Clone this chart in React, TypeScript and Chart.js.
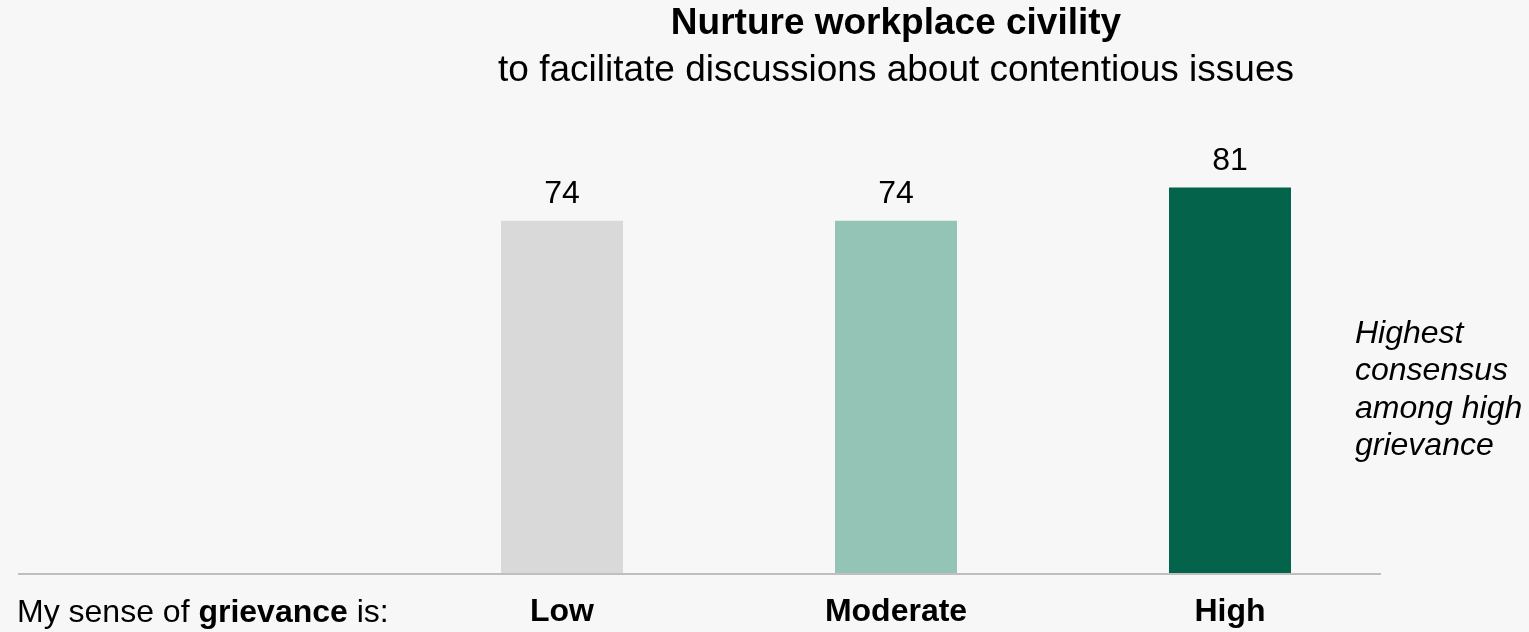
import React, { useEffect, useRef } from "react";
import { Chart, registerables } from "chart.js";

Chart.register(...registerables);

const categories = ["Low", "Moderate", "High"];
const values = [74, 74, 81];
const barColors = ["#d9d9d9", "#93c4b5", "#03634b"];
const titleText = "Nurture workplace civility";
const subtitleText = "to facilitate discussions about contentious issues";
const axisPrefix = [
  { text: "My sense of ", bold: false },
  { text: "grievance", bold: true },
  { text: " is:", bold: false },
];
const noteLines = ["Highest", "consensus", "among high", "grievance"];

const FONT = "'Liberation Sans', Arial, sans-serif";

const extrasPlugin = {
  id: "extras",
  beforeDraw(chart: any) {
    const { ctx, width, height } = chart;
    ctx.save();
    ctx.fillStyle = "#f7f7f7";
    ctx.fillRect(0, 0, width, height);
    ctx.restore();
  },
  beforeDatasetsDraw(chart: any) {
    const { ctx } = chart;
    const y0 = chart.scales.y.getPixelForValue(0);
    ctx.save();
    ctx.strokeStyle = "#bfbfbf";
    ctx.lineWidth = 2;
    ctx.beginPath();
    ctx.moveTo(18, y0 + 1);
    ctx.lineTo(1381, y0 + 1);
    ctx.stroke();
    ctx.restore();
  },
  afterDatasetsDraw(chart: any) {
    const { ctx } = chart;
    const meta = chart.getDatasetMeta(0);
    ctx.save();
    ctx.fillStyle = "#000";
    ctx.font = `32px ${FONT}`;
    ctx.textAlign = "center";
    ctx.textBaseline = "alphabetic";
    meta.data.forEach((bar: any, i: number) => {
      ctx.fillText(String(values[i]), bar.x, bar.y - 17.5);
    });

    // axis prefix label
    ctx.textAlign = "left";
    let x = 17;
    const yBase = 622;
    axisPrefix.forEach((part) => {
      ctx.font = `${part.bold ? "bold " : ""}32px ${FONT}`;
      ctx.fillText(part.text, x, yBase);
      x += ctx.measureText(part.text).width;
    });

    // note
    ctx.font = `italic 32px ${FONT}`;
    noteLines.forEach((line, i) => {
      ctx.fillText(line, 1355, 342.7 + i * 37.5);
    });
    ctx.restore();
  },
};

export default function App() {
  const canvasRef = useRef<HTMLCanvasElement | null>(null);

  useEffect(() => {
    document.body.style.margin = "0";
    document.body.style.background = "#f7f7f7";
    const canvas = canvasRef.current;
    if (!canvas) return;
    const chart = new Chart(canvas, {
      type: "bar",
      data: {
        labels: categories,
        datasets: [
          {
            data: values,
            backgroundColor: barColors,
            borderWidth: 0,
            categoryPercentage: 1,
            barPercentage: 122 / 334,
          },
        ],
      },
      options: {
        animation: false,
        responsive: true,
        maintainAspectRatio: false,
        layout: {
          padding: { left: 395, right: 132, top: 0, bottom: 0 },
        },
        plugins: {
          legend: { display: false },
          tooltip: { enabled: false },
          title: {
            display: true,
            text: titleText,
            color: "#000",
            font: { family: FONT, size: 37, weight: "bold", lineHeight: 1.2 },
            padding: { top: 1.3, bottom: 2.6 },
          },
          subtitle: {
            display: true,
            text: subtitleText,
            color: "#000",
            font: { family: FONT, size: 37, weight: "normal", lineHeight: 1.2 },
            padding: { top: 0, bottom: 4.3 },
          },
        },
        scales: {
          x: {
            grid: { display: false },
            border: { display: false },
            ticks: {
              color: "#000",
              padding: 12,
              font: { family: FONT, size: 32, weight: "bold", lineHeight: 1.2 },
            },
            afterFit: (scale: any) => {
              scale.height = 59;
            },
          },
          y: {
            display: false,
            min: 0,
            max: 100,
          },
        },
      },
      plugins: [extrasPlugin],
    });
    return () => chart.destroy();
  }, []);

  return (
    <div style={{ position: "relative", width: "1529px", height: "632px" }}>
      <canvas ref={canvasRef} />
    </div>
  );
}
